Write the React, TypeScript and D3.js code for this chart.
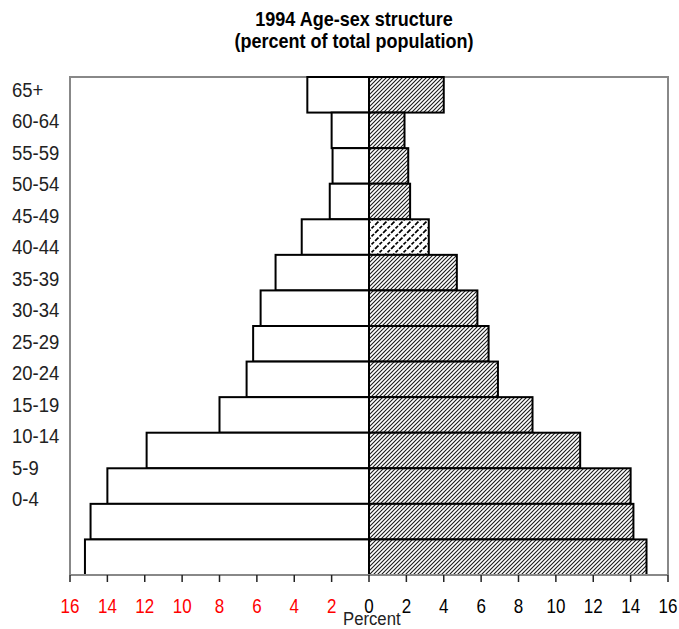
import React from "react";
import * as d3 from "d3";

const ageGroups = ["65+", "60-64", "55-59", "50-54", "45-49", "40-44", "35-39", "30-34", "25-29", "20-24", "15-19", "10-14", "5-9", "0-4"];
const maleValues = [3.3, 2.0, 1.95, 2.1, 3.6, 5.0, 5.8, 6.2, 6.55, 8.0, 11.9, 14.0, 14.9, 15.2];
const femaleValues = [4.0, 1.9, 2.1, 2.2, 3.2, 4.7, 5.8, 6.4, 6.9, 8.75, 11.3, 14.0, 14.15, 14.85];
const highlightIndex = 4;
const xTicks = [-16, -14, -12, -10, -8, -6, -4, -2, 0, 2, 4, 6, 8, 10, 12, 14, 16];
const titleLines = ["1994 Age-sex structure", "(percent of total population)"];
const xAxisLabel = "Percent";

const W = 679;
const H = 629;
const plot = { left: 70, right: 668, top: 77, bottom: 575 };
const FONT = "'Liberation Sans', Arial, sans-serif";

function CText({ x, y, sx = 0.86, anchor = "start", size = 20, weight = "normal", fill = "#000", children }: any) {
  return (
    <text
      transform={`translate(${x},${y}) scale(${sx},1)`}
      textAnchor={anchor}
      fontFamily={FONT}
      fontSize={size}
      fontWeight={weight}
      fill={fill}
    >
      {children}
    </text>
  );
}

export default function App() {
  const x = d3.scaleLinear().domain([-16, 16]).range([plot.left, plot.right]);
  const y = d3.scaleBand<number>().domain(d3.range(ageGroups.length)).range([plot.top, plot.bottom]).paddingInner(0).paddingOuter(0);
  const labelY = d3.scalePoint<string>().domain(ageGroups).range([97, 506]);
  const bw = y.bandwidth();

  return (
    <svg width={W} height={H} style={{ position: "absolute", left: 0, top: 0, background: "#fff" }}>
      <defs>
        <pattern id="hatch" patternUnits="userSpaceOnUse" width={4} height={4}>
          <rect width={4} height={4} fill="#fff" />
          <path d="M-1,1 L1,-1 M0,4 L4,0 M3,5 L5,3" stroke="#1a1a1a" strokeWidth={1.1} />
        </pattern>
        <pattern id="hatch2" patternUnits="userSpaceOnUse" width={8} height={8}>
          <rect width={8} height={8} fill="#fff" />
          <path d="M0,8 L8,0" stroke="#000" strokeWidth={1.7} strokeDasharray="3.5 1.5" />
          <path d="M-2,2 L2,-2 M6,10 L10,6" stroke="#000" strokeWidth={1.7} strokeDasharray="3.5 1.5" />
        </pattern>
      </defs>

      {/* title */}
      {titleLines.map((t, i) => (
        <CText key={t} x={354} y={26 + i * 22} anchor="middle" size={20} weight="bold" sx={0.9}>
          {t}
        </CText>
      ))}

      {/* plot frame */}
      <path
        d={`M${plot.left},${plot.bottom} L${plot.left},${plot.top} L${plot.right},${plot.top} L${plot.right},${plot.bottom}`}
        fill="none"
        stroke="#888"
        strokeWidth={2}
      />

      {/* bars */}
      {ageGroups.map((g, i) => (
        <g key={g}>
          <rect
            x={x(-maleValues[i])}
            y={y(i)!}
            width={x(0) - x(-maleValues[i])}
            height={bw}
            fill="#fff"
            stroke="#000"
            strokeWidth={2}
          />
          <rect
            x={x(0)}
            y={y(i)!}
            width={x(femaleValues[i]) - x(0)}
            height={bw}
            fill={i === highlightIndex ? "url(#hatch2)" : "url(#hatch)"}
            stroke="#000"
            strokeWidth={2}
          />
        </g>
      ))}

      {/* x axis */}
      <line x1={plot.left} x2={plot.right} y1={plot.bottom} y2={plot.bottom} stroke="#888" strokeWidth={2} />
      {xTicks.map((t) => (
        <g key={t}>
          <line x1={x(t)} x2={x(t)} y1={plot.bottom} y2={plot.bottom + 7} stroke="#222" strokeWidth={1.5} />
          <CText x={x(t)} y={613} anchor="middle" size={20} sx={0.85} fill={t < 0 ? "#ff0000" : "#000"}>
            {Math.abs(t)}
          </CText>
        </g>
      ))}
      <CText x={343} y={625} anchor="start" size={19} sx={0.88} fill="#222">
        {xAxisLabel}
      </CText>

      {/* age labels */}
      {ageGroups.map((g) => (
        <CText key={g} x={12} y={labelY(g)!} anchor="start" size={21} sx={0.88} fill="#222">
          {g}
        </CText>
      ))}
    </svg>
  );
}
